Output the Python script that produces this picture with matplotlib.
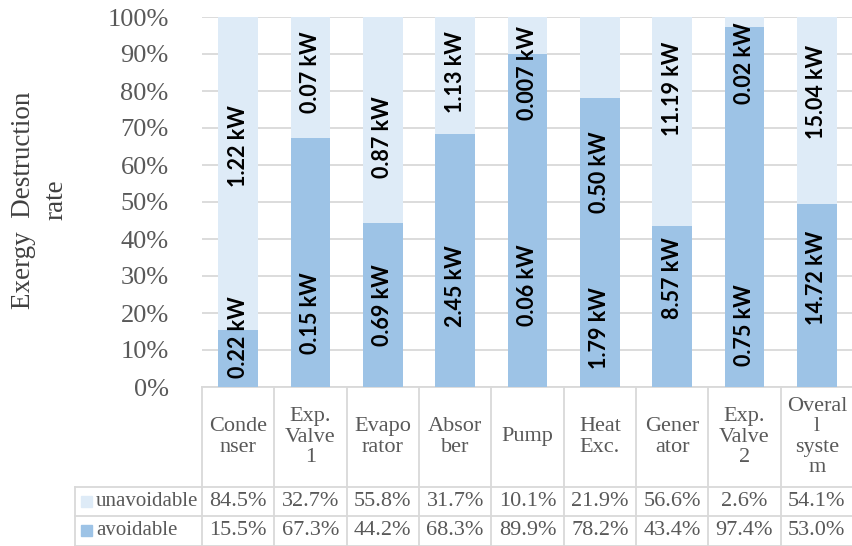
import matplotlib
matplotlib.use("Agg")
import matplotlib.pyplot as plt
from matplotlib.patches import Rectangle

categories = ["Conde\nnser", "Exp.\nValve\n1", "Evapo\nrator", "Absor\nber", "Pump",
              "Heat\nExc.", "Gener\nator", "Exp.\nValve\n2", "Overal\nl\nsyste\nm"]
unavoidable_pct = [84.5, 32.7, 55.8, 31.7, 10.1, 21.9, 56.6, 2.6, 54.1]
avoidable_pct = [15.5, 67.3, 44.2, 68.3, 89.9, 78.2, 43.4, 97.4, 53.0]
avoidable_kw = ["0.22", "0.15", "0.69", "2.45", "0.06", "1.79", "8.57", "0.75", "14.72"]
unavoidable_kw = ["1.22", "0.07", "0.87", "1.13", "0.007", "0.50", "11.19", "0.02", "15.04"]
# where the rotated kW labels sit (percent of bar height), as in the original
av_label_y = [13.5, 20, 22, 27.3, 27.6, 16, 29.5, 16.8, 29.5]
un_label_y = [65, 85, 67.5, 85, 85, 58, 80.5, 87.5, 79.7]

C_AV = "#9DC3E6"
C_UN = "#DEEBF7"
GRID = "#D9D9D9"
TXT = "#595959"
SERIF = "Liberation Serif"

W, H = 853, 546
fig = plt.figure(figsize=(W / 100, H / 100), dpi=100)
ax = fig.add_axes([202 / W, 1 - 387 / H, 651 / W, 370 / H])

n = len(categories)
x = list(range(n))
# Excel 100% stacked: normalise each column
tot = [a + u for a, u in zip(avoidable_pct, unavoidable_pct)]
av = [a / t * 100 for a, t in zip(avoidable_pct, tot)]
un = [u / t * 100 for u, t in zip(unavoidable_pct, tot)]

ax.bar(x, av, width=0.55, color=C_AV, zorder=2)
ax.bar(x, un, bottom=av, width=0.55, color=C_UN, zorder=2)

for i in x:
    ax.text(i, av_label_y[i], avoidable_kw[i] + " kW", rotation=90, ha="center", va="center",
            fontsize=15.5, fontweight="bold", family="Lato", color="black", zorder=3)
    ax.text(i, un_label_y[i], unavoidable_kw[i] + " kW", rotation=90, ha="center", va="center",
            fontsize=15.5, fontweight="bold", family="Lato", color="black", zorder=3)

ax.set_xlim(-0.5, n - 0.5)
ax.set_ylim(0, 100)
ax.set_yticks(range(0, 101, 10))
ax.set_yticklabels([f"{v}%" for v in range(0, 101, 10)], family=SERIF, fontsize=19, color=TXT)
ax.set_xticks([])
ax.tick_params(axis="y", length=0, pad=24)
ax.grid(axis="y", color=GRID, lw=1.3, zorder=0)
for s in ax.spines.values():
    s.set_visible(False)

fig.text(40 / W, 1 - 200 / H, "Exergy  Destruction\nrate", rotation=90, ha="center", va="center",
         family=SERIF, fontsize=19.5, color="#404040", linespacing=1.4)

# data table under the plot
tr = ax.transAxes
y_head = -100 / 370
y_row1 = -129 / 370
y_bot = -158.5 / 370
x_lab = -127 / 651

def line(xs, ys):
    ax.plot(xs, ys, color=GRID, lw=1.3, transform=tr, clip_on=False, zorder=1)

line([0, 1], [0, 0])
line([x_lab, 1], [y_head, y_head])
line([x_lab, 1], [y_row1, y_row1])
line([x_lab, 1], [y_bot, y_bot])
line([x_lab, x_lab], [y_head, y_bot])
for k in range(n + 1):
    line([k / n, k / n], [0, y_bot])

for i in x:
    xc = (i + 0.5) / n
    ax.text(xc, y_head / 2, categories[i], transform=tr, ha="center", va="center",
            family=SERIF, fontsize=16, color=TXT, linespacing=1.1)
    ax.text(xc, (y_head + y_row1) / 2, f"{unavoidable_pct[i]:.1f}%", transform=tr, ha="center",
            va="center", family=SERIF, fontsize=16, color=TXT)
    ax.text(xc, (y_row1 + y_bot) / 2, f"{avoidable_pct[i]:.1f}%", transform=tr, ha="center",
            va="center", family=SERIF, fontsize=16, color=TXT)

sw = 11 / 651
sh = 11 / 370
for yc, col, name in [((y_head + y_row1) / 2, C_UN, "unavoidable"),
                      ((y_row1 + y_bot) / 2, C_AV, "avoidable")]:
    ax.add_patch(Rectangle((-121 / 651, yc - sh / 2), sw, sh, transform=tr, color=col, clip_on=False))
    ax.text(-106 / 651, yc, name, transform=tr, ha="left", va="center",
            family=SERIF, fontsize=15, color=TXT)

fig.savefig("out.png", dpi=100)
